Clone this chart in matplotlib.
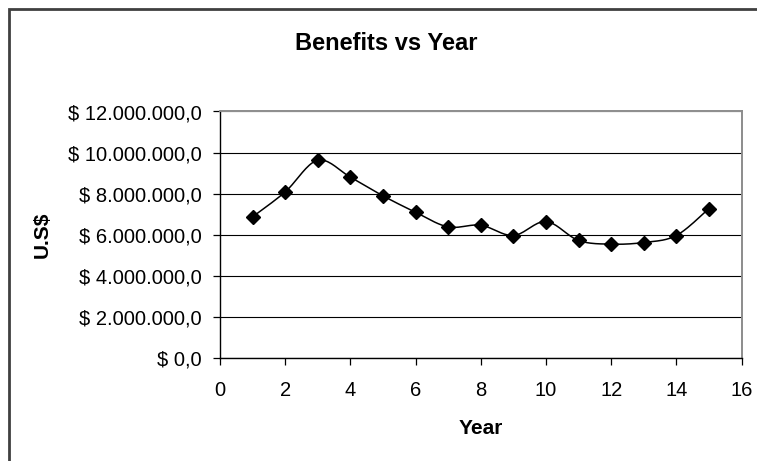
import matplotlib
matplotlib.use("Agg")
import matplotlib.pyplot as plt
from matplotlib.patches import Rectangle
from matplotlib.ticker import FuncFormatter
import numpy as np

plt.rcParams['font.family'] = ['Liberation Sans', 'DejaVu Sans']

# data
years = [1, 2, 3, 4, 5, 6, 7, 8, 9, 10, 11, 12, 13, 14, 15]
benefits = [6.88e6, 8.09e6, 9.63e6, 8.81e6, 7.90e6, 7.10e6, 6.39e6, 6.47e6,
            5.97e6, 6.65e6, 5.73e6, 5.55e6, 5.63e6, 5.97e6, 7.28e6]
y_ticks = [0, 2e6, 4e6, 6e6, 8e6, 10e6, 12e6]
x_ticks = [0, 2, 4, 6, 8, 10, 12, 14, 16]


def smooth_line(x, y, n=20):
    """Excel-style smoothed line: cubic Bezier with Catmull-Rom control points."""
    x = np.asarray(x, float)
    y = np.asarray(y, float)
    xs, ys = [x[0]], [y[0]]
    for i in range(len(x) - 1):
        x0, y0 = (x[i - 1], y[i - 1]) if i > 0 else (x[i], y[i])
        x3, y3 = (x[i + 2], y[i + 2]) if i + 2 < len(x) else (x[i + 1], y[i + 1])
        c1x = x[i] + (x[i + 1] - x0) / 6
        c1y = y[i] + (y[i + 1] - y0) / 6
        c2x = x[i + 1] - (x3 - x[i]) / 6
        c2y = y[i + 1] - (y3 - y[i]) / 6
        t = np.linspace(0, 1, n)[1:]
        b = [(1 - t) ** 3, 3 * (1 - t) ** 2 * t, 3 * (1 - t) * t ** 2, t ** 3]
        xs.extend(b[0] * x[i] + b[1] * c1x + b[2] * c2x + b[3] * x[i + 1])
        ys.extend(b[0] * y[i] + b[1] * c1y + b[2] * c2y + b[3] * y[i + 1])
    return np.array(xs), np.array(ys)


def money(v, pos):
    s = f"{v:,.1f}".replace(",", "X").replace(".", ",").replace("X", ".")
    return "$ " + s


fig = plt.figure(figsize=(7.57, 4.61), dpi=100)
ax = fig.add_axes([220 / 757, 1 - 358.3 / 461, 521.5 / 757, 246.8 / 461])

sx, sy = smooth_line(years, benefits)
ax.plot(sx, sy, color='black', lw=1.1, zorder=3)
ax.plot(years, benefits, ls='none', marker='D', ms=7, color='black', zorder=4)

ax.set_xlim(0, 16)
ax.set_ylim(0, 12e6)
ax.set_xticks(x_ticks)
ax.set_yticks(y_ticks)
ax.yaxis.set_major_formatter(FuncFormatter(money))
ax.grid(axis='y', color='black', lw=0.8)
ax.set_axisbelow(True)
ax.tick_params(direction='out', length=5, width=0.9, labelsize=14.5)
ax.tick_params(axis='y', pad=8)
ax.tick_params(axis='x', pad=11)

for side in ['top', 'right']:
    ax.spines[side].set_color('#8c8c8c')
    ax.spines[side].set_linewidth(1.4)
for side in ['left', 'bottom']:
    ax.spines[side].set_color('black')
    ax.spines[side].set_linewidth(1.0)

ax.set_xlabel('Year', fontsize=15, fontweight='bold', labelpad=14)
ax.set_ylabel('U.S$', fontsize=15, fontweight='bold', labelpad=12)
fig.text(386 / 757, 1 - 43 / 461, 'Benefits vs Year', fontsize=17,
         fontweight='bold', ha='center', va='center')

# outer chart frame (right/bottom edges fall outside the image)
fig.patches.append(Rectangle((9 / 757, -0.1), 1.1, 1 - 9 / 461 + 0.1,
                             transform=fig.transFigure, fill=False,
                             edgecolor='#404040', lw=2, zorder=0))

fig.savefig('out.png', dpi=100)
